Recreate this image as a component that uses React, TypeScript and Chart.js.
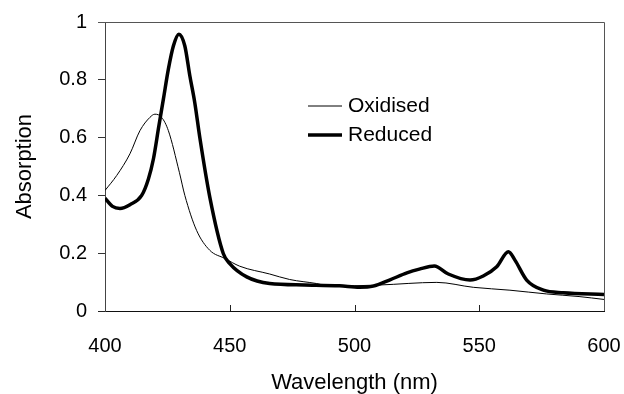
import React, { useEffect, useRef } from "react";
import { Chart, registerables } from "chart.js";

Chart.register(...registerables);

const oxWavelength = [400, 404.7, 410, 414, 418, 420, 422.7, 425.4, 429.8, 432, 436.7, 442, 448, 454, 466, 474, 484.8, 490, 510, 533, 547.6, 562.3, 577, 590, 600];
const oxAbsorption = [0.417, 0.469, 0.544, 0.624, 0.67, 0.681, 0.67, 0.624, 0.48, 0.4, 0.279, 0.21, 0.182, 0.155, 0.128, 0.109, 0.095, 0.086, 0.09, 0.099, 0.082, 0.072, 0.059, 0.05, 0.04];

const redWavelength = [400, 403, 406, 410, 414.7, 417.4, 419.4, 421.6, 423.4, 425.4, 427.4, 429.6, 432, 434, 436, 438, 442, 447.4, 450, 456.8, 466, 480, 494, 502, 507.5, 514, 521, 526, 532, 537.6, 546.3, 551.6, 557, 561.7, 564.3, 569, 575.7, 583.7, 600];
const redAbsorption = [0.39, 0.362, 0.355, 0.368, 0.4, 0.457, 0.526, 0.641, 0.733, 0.837, 0.917, 0.958, 0.917, 0.814, 0.72, 0.6, 0.394, 0.199, 0.164, 0.118, 0.095, 0.09, 0.087, 0.082, 0.086, 0.107, 0.132, 0.145, 0.156, 0.128, 0.107, 0.121, 0.153, 0.205, 0.176, 0.107, 0.072, 0.063, 0.057];

const xTicks = [400, 450, 500, 550, 600];
const seriesLabels = ["Oxidised", "Reduced"];
const xTitle = "Wavelength (nm)";
const yTitle = "Absorption";

const FONT = "'Liberation Sans', Arial, sans-serif";

const framePlugin = {
  id: "frame",
  afterDraw(chart: any) {
    const { ctx, chartArea } = chart;
    const xs = chart.scales.x;
    ctx.save();
    ctx.strokeStyle = "#555";
    ctx.lineWidth = 1;
    ctx.beginPath();
    ctx.moveTo(chartArea.left - 7, chartArea.top + 0.5);
    ctx.lineTo(chartArea.right + 0.5, chartArea.top + 0.5);
    ctx.lineTo(chartArea.right + 0.5, chartArea.bottom);
    ctx.stroke();
    ctx.strokeStyle = "#222";
    ctx.beginPath();
    xTicks.slice(1, -1).forEach((v) => {
      const px = Math.round(xs.getPixelForValue(v)) + 0.5;
      ctx.moveTo(px, chartArea.bottom);
      ctx.lineTo(px, chartArea.bottom - 6);
    });
    ctx.moveTo(chartArea.left - 7, chartArea.bottom + 0.5);
    ctx.lineTo(chartArea.left, chartArea.bottom + 0.5);
    ctx.stroke();
    ctx.font = `21px ${FONT}`;
    ctx.textBaseline = "middle";
    ctx.fillStyle = "#000";
    chart.data.datasets.forEach((ds: any, i: number) => {
      const y = chartArea.top + 84 + i * 29;
      const x0 = chartArea.left + 203;
      ctx.strokeStyle = "#000";
      ctx.lineWidth = ds.borderWidth;
      ctx.beginPath();
      ctx.moveTo(x0, y);
      ctx.lineTo(x0 + 34, y);
      ctx.stroke();
      ctx.fillText(ds.label, x0 + 40, y);
    });
    ctx.restore();
  },
};

export default function App() {
  const ref = useRef<HTMLCanvasElement | null>(null);
  useEffect(() => {
    document.body.style.margin = "0";
    if (!ref.current) return;
    const chart = new Chart(ref.current, {
      type: "line",
      data: {
        datasets: [
          {
            label: seriesLabels[0],
            data: oxWavelength.map((x, i) => ({ x, y: oxAbsorption[i] })),
            borderColor: "#000",
            borderWidth: 1,
            pointRadius: 0,
            cubicInterpolationMode: "monotone",
            fill: false,
          },
          {
            label: seriesLabels[1],
            data: redWavelength.map((x, i) => ({ x, y: redAbsorption[i] })),
            borderColor: "#000",
            borderWidth: 3.5,
            pointRadius: 0,
            cubicInterpolationMode: "monotone",
            fill: false,
          },
        ],
      },
      options: {
        animation: false,
        responsive: true,
        maintainAspectRatio: false,
        layout: { padding: { top: 22, right: 20, left: 0, bottom: 0 } },
        plugins: { legend: { display: false }, tooltip: { enabled: false } },
        scales: {
          x: {
            type: "linear",
            min: 400,
            max: 600,
            afterFit: (s: any) => { s.height = 83; s.paddingRight = 0; s.paddingLeft = 0; },
            afterBuildTicks: (s: any) => { s.ticks = xTicks.map((v) => ({ value: v })); },
            grid: { display: false },
            border: { display: true, color: "#111", width: 1 },
            ticks: { color: "#000", font: { family: FONT, size: 20 }, padding: 15, maxRotation: 0, autoSkip: false },
            title: { display: true, text: xTitle, color: "#000", font: { family: FONT, size: 22 }, padding: { top: 0, bottom: -2 } },
          },
          y: {
            min: 0,
            max: 1,
            afterFit: (s: any) => { s.width = 105; s.paddingTop = 0; s.paddingBottom = 0; },
            grid: { display: true, drawOnChartArea: false, drawTicks: true, tickLength: 7, color: "#333" },
            border: { display: true, color: "#444", width: 1 },
            ticks: {
              stepSize: 0.2,
              color: "#000",
              font: { family: FONT, size: 20 },
              padding: 11,
              callback: (v: any) => String(Math.round(Number(v) * 10) / 10),
            },
            title: { display: true, text: yTitle, color: "#000", font: { family: FONT, size: 22 }, padding: { top: 12, bottom: 0 } },
          },
        },
      },
      plugins: [framePlugin],
    });
    return () => chart.destroy();
  }, []);
  return (
    <div style={{ width: 624, height: 394, position: "relative", background: "#fff" }}>
      <canvas ref={ref} />
    </div>
  );
}
